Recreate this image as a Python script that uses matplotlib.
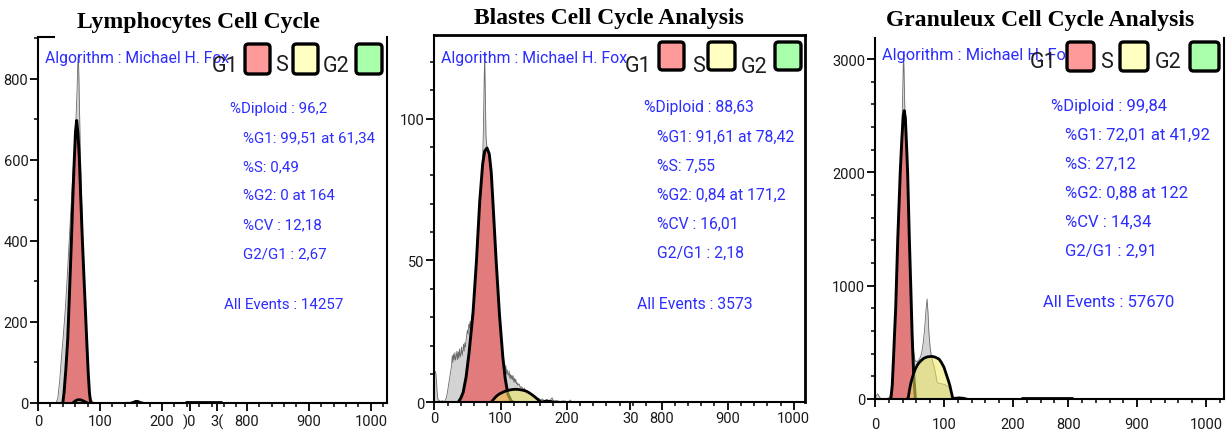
import numpy as np
import matplotlib
matplotlib.use("Agg")
import matplotlib.pyplot as plt
from matplotlib.patches import FancyBboxPatch
from matplotlib.ticker import FixedLocator, FixedFormatter

plt.rcParams['font.family'] = ['Roboto', 'DejaVu Sans']

W, H = 1232, 435

# ---------------- Lymphocytes ----------------
lym_hist_x = [29, 32, 35, 38, 41, 44, 47, 50, 53, 56, 59, 61, 63, 64, 65, 66, 67, 68, 70, 72, 75,
              78, 81, 83, 85, 88, 92, 100, 130, 150, 156, 160, 165, 172, 200]
lym_hist_y = [0, 12, 55, 115, 170, 230, 305, 390, 475, 560, 630, 690, 770, 830, 858, 805, 720, 645,
              520, 410, 270, 160, 80, 35, 12, 3, 0, 1, 1, 2, 4, 6, 3, 1, 0]
lym_g1_x = [40, 42, 45, 48, 51, 54, 56.5, 58.6, 60.5, 62.4, 64.5, 66.7, 69, 71.5, 75, 78.5, 81, 83, 85]
lym_g1_y = [0, 25, 85, 158, 280, 405, 520, 602, 670, 697, 665, 602, 505, 405, 280, 158, 75, 25, 0]
lym_s_x = [56, 60, 64, 68, 72, 76, 80]
lym_s_y = [0, 5, 8, 8, 6, 3, 0]
lym_g2_x = [150, 155, 158, 162, 166, 170]
lym_g2_y = [0, 3, 5, 4, 1, 0]
lym_tail_x = [362, 625]
lym_tail_y = [3, 3]
lym_stats = ["%Diploid : 96,2", "%G1: 99,51 at 61,34", "%S: 0,49", "%G2: 0 at 164",
             "%CV : 12,18", "G2/G1 : 2,67", "All Events : 14257"]

# ---------------- Blastes ----------------
bla_hist_x = [0, 1, 2, 3, 4, 5, 6, 8, 10, 12, 14, 16, 18, 20, 22, 24, 26, 27, 28, 29, 30, 31, 32,
              33, 34, 35, 36, 37, 38, 39, 40, 41, 42, 43, 44, 45, 46, 47, 48, 49, 50, 51, 52, 53,
              54, 55, 56, 58, 60, 62, 64, 66, 68, 70, 72, 73, 74, 75, 76, 77, 78, 79, 80, 82, 84,
              86, 88, 90, 92, 94, 96, 98, 100, 101, 102, 103, 104, 105, 106, 107, 108, 109, 110,
              111, 112, 113, 114, 115, 116, 117, 118, 119, 120, 121, 122, 123, 124, 125, 126, 128,
              130, 132, 134, 136, 138, 140, 142, 144, 146, 148, 150, 152, 155, 158, 160, 163, 166,
              170, 174, 178, 180, 185, 190, 195, 200, 210, 225, 228, 240]
bla_hist_y = [10, 11, 10.5, 8, 4, 1.5, 0.8, 0.5, 0.3, 0.6, 0.3, 0.5, 1.5, 4, 7, 10, 13, 16.5, 14,
              17, 15, 17.5, 14.8, 16, 18, 15, 17.8, 15.5, 18.8, 16, 17, 19.5, 16.5, 18, 20.5, 18,
              21, 19.5, 22, 24, 25.5, 24, 27.5, 26, 28.5, 27, 29, 32, 37, 43, 50, 57, 64, 72, 80,
              86, 95, 110, 123, 108, 94, 91, 89, 86, 80, 73, 66, 58, 52, 45, 38, 32, 26, 21, 17,
              14, 12.5, 10, 12.5, 11.5, 13, 10, 11.5, 10, 9.5, 11, 8.5, 9.8, 8.2, 9.5, 8, 9.4, 7.2,
              8.4, 7, 8.2, 6.5, 7, 6, 6.5, 5.2, 5.5, 4.5, 5, 4, 4.2, 3.5, 3.6, 3, 2.6, 2.2, 1.5,
              1.2, 1.4, 0.8, 1.2, 0.6, 1, 0.4, 1.6, 0.5, 0.6, 0.3, 0.5, 0.3, 0.2, 0.8, 0.2, 0]
bla_g1_x = [36, 40, 43.5, 48, 52.5, 58.5, 63.5, 68.5, 73, 76, 79.5, 83, 86, 88.5, 93.5, 98.5,
            103.5, 107, 111, 116, 120]
bla_g1_y = [0, 1.5, 3.5, 9, 17.6, 31.8, 49.4, 70.6, 84, 88.5, 89.6, 87.5, 81, 70.6, 49.4, 30.6,
            15.9, 8.5, 3, 0.5, 0]
bla_s_x = [86, 90, 94, 98, 103, 108, 113, 118, 123, 128, 133, 138, 143, 148, 152, 156, 159, 162]
bla_s_y = [0, 1.2, 2.2, 2.9, 3.5, 4, 4.3, 4.5, 4.6, 4.5, 4.3, 4, 3.4, 2.6, 1.9, 1.1, 0.5, 0]
bla_g2_x = [160, 166, 171, 176, 182]
bla_g2_y = [0, 0.4, 0.5, 0.4, 0]
bla_stats = ["%Diploid : 88,63", "%G1: 91,61 at 78,42", "%S: 7,55", "%G2: 0,84 at 171,2",
             "%CV : 16,01", "G2/G1 : 2,18", "All Events : 3573"]

# ---------------- Granuleux ----------------
gra_hist_x = [0, 2, 4, 6, 8, 12, 16, 20, 22, 24, 26, 28, 30, 32, 34, 36, 38, 39, 40, 41, 41.5, 42,
              43, 44, 46, 48, 50, 52, 54, 56, 58, 60, 62, 64, 66, 68, 70, 72, 74, 75.5, 77, 78, 80,
              82, 84, 86, 88, 89, 90, 92, 95, 98, 101, 104, 107, 109, 111, 112, 114, 120, 140, 180,
              200, 230]
gra_hist_y = [0, 30, 45, 25, 5, 3, 2, 10, 30, 80, 240, 520, 790, 1200, 1580, 1900, 2200, 2380, 2650,
              2950, 3015, 2920, 2620, 2450, 2150, 1750, 1350, 950, 620, 420, 340, 330, 335, 350, 370,
              420, 500, 620, 790, 882, 750, 600, 450, 370, 320, 280, 220, 180, 150, 140, 135, 132,
              128, 118, 102, 85, 50, 22, 8, 6, 4, 3, 2, 2]
gra_g1_x = [23, 25, 27, 28, 30, 33, 36.6, 39, 41, 42.4, 44, 46, 47.3, 49.8, 52, 54, 56, 58.5]
gra_g1_y = [0, 120, 380, 530, 800, 1410, 2000, 2300, 2500, 2544, 2480, 2200, 2000, 1410, 960, 530,
            230, 0]
gra_s_x = [47, 48.5, 50, 52, 54, 56, 58.5, 61, 63.5, 67, 71, 76, 82, 87, 92.7, 96, 100, 103, 106,
           108.5, 110.7, 112, 113.5]
gra_s_y = [0, 20, 80, 140, 185, 225, 265, 295, 318, 340, 360, 372, 376, 370, 353, 325, 280, 225,
           170, 120, 60, 25, 0]
gra_g2_x = [110, 116, 122, 128, 134]
gra_g2_y = [0, 9, 12, 9, 0]
gra_tail_x = [287, 807]
gra_tail_y = [12, 12]
gra_stats = ["%Diploid : 99,84", "%G1: 72,01 at 41,92", "%S: 27,12", "%G2: 0,88 at 122",
             "%CV : 14,34", "G2/G1 : 2,91", "All Events : 57670"]

titles = ["Lymphocytes Cell Cycle", "Blastes Cell Cycle Analysis", "Granuleux Cell Cycle Analysis"]
algorithm = "Algorithm : Michael H. Fox"
legend_labels = ["G1", "S", "G2"]

# colours
C_HIST, C_HIST_EDGE = "#d3d3d3", "#6a6a6a"
C_G1 = "#e27c7c"
C_S = "#efea62"
C_G2 = "#9af09a"
BOX_COLORS = ["#ff9a9a", "#ffffc2", "#aaffaa"]
BLUE = "#2d2dff"


def broken_axis(gap):
    """Channels 200..800 are squeezed into `gap` hundred units of axis length."""
    src = [-1000, 200, 800, 3000]
    dst = [-1000, 200, 200 + gap * 100, 200 + gap * 100 + 2200]
    fwd = lambda v: np.interp(v, src, dst)
    inv = lambda v: np.interp(v, dst, src)
    return fwd, inv


fig = plt.figure(figsize=(W / 100, H / 100), dpi=100)
INCH = fig.dpi_scale_trans


def pt(x, y):
    return x / 100, (H - y) / 100


panels = [
    dict(box=(38, 387, 38, 404), gap=1.37, xmax=1026, ymax=903, yt=[0, 200, 400, 600, 800],
         ymin_step=100, extra=[(245, ")0"), (289, "3(")], xpad=2.0,
         hist=(lym_hist_x, lym_hist_y), g1=(lym_g1_x, lym_g1_y), s=(lym_s_x, lym_s_y),
         g2=(lym_g2_x, lym_g2_y), tail=(lym_tail_x, lym_tail_y), stats=lym_stats,
         title=(198, 28), alg=(45, 63, 11.3), st=(230, 243, 224, [113, 142, 171, 200, 229, 258, 309], 10.9),
         leg=[(212, 72), (245, 45, 25, 30), (275, 71), (293, 45, 25, 30), (323, 72), (356, 45, 26, 30)],
         top=False, spw=1.5),
    dict(box=(434.4, 805, 35.5, 403.3), gap=1.435, xmax=1017, ymax=129.6, yt=[0, 50, 100],
         ymin_step=10, extra=[(296.5, "30")], xpad=0.0,
         hist=(bla_hist_x, bla_hist_y), g1=(bla_g1_x, bla_g1_y), s=(bla_s_x, bla_s_y),
         g2=(bla_g2_x, bla_g2_y), tail=None, stats=bla_stats,
         title=(609, 24), alg=(441, 63, 11.4), st=(644, 657, 637, [112, 142, 171, 200, 229, 258, 309], 11.3),
         leg=[(625, 72), (659, 43, 25, 28), (692, 72), (708, 43, 27, 28), (741, 73), (775, 43, 26, 28)],
         top=True, spw=2.0),
    dict(box=(875, 1224, 39.3, 400), gap=0.8, xmax=1026, ymax=3183, yt=[0, 1000, 2000, 3000],
         ymin_step=200, extra=[], xpad=7.0,
         hist=(gra_hist_x, gra_hist_y), g1=(gra_g1_x, gra_g1_y), s=(gra_s_x, gra_s_y),
         g2=(gra_g2_x, gra_g2_y), tail=(gra_tail_x, gra_tail_y), stats=gra_stats,
         title=(1040, 26), alg=(882, 60, 11.8), st=(1051, 1065, 1043, [111, 140, 169, 198, 227, 256, 307], 12.0),
         leg=[(1030, 68), (1067, 43, 27, 29), (1100, 68), (1120, 43, 28, 29), (1155, 68), (1190, 43, 29, 29)],
         top=False, spw=1.5),
]

for i, p in enumerate(panels):
    l, r, t, b = p["box"]
    ax = fig.add_axes([l / W, 1 - b / H, (r - l) / W, (b - t) / H])
    fwd, inv = broken_axis(p["gap"])
    ax.set_xscale("function", functions=(fwd, inv))
    ax.set_xlim(0, p["xmax"])
    ax.set_ylim(0, p["ymax"])

    hx, hy = p["hist"]
    ax.fill_between(hx, 0, hy, color=C_HIST, lw=0, zorder=1)
    ax.plot(hx, hy, color=C_HIST_EDGE, lw=0.6, zorder=2)
    gx, gy = p["g1"]
    ax.fill_between(gx, 0, gy, color=C_G1, lw=0, zorder=3)
    ax.plot(gx, gy, color="black", lw=2.1, zorder=4, solid_joinstyle="round")
    sx, sy = p["s"]
    ax.fill_between(sx, 0, sy, color=C_S, alpha=0.55, lw=0, zorder=5)
    ax.plot(sx, sy, color="black", lw=2.0, zorder=6, solid_joinstyle="round")
    g2x, g2y = p["g2"]
    ax.fill_between(g2x, 0, g2y, color=C_G2, alpha=0.5, lw=0, zorder=5)
    ax.plot(g2x, g2y, color="black", lw=1.6, zorder=6)
    if p["tail"] is not None:
        tx, ty = p["tail"]
        ax.plot(tx, ty, color="black", lw=2.0, zorder=6, solid_capstyle="butt")

    # ticks
    vgap_end = 200 + p["gap"] * 100
    majors = [0, 100, 200] + [float(inv(v)) for v, _ in p["extra"]] + [800, 900, 1000]
    labels = ["0", "100", "200"] + [s for _, s in p["extra"]] + ["800", "900", "1000"]
    minor_v = [v for v in range(20, 200, 20) if v != 100]
    minor_v += list(np.arange(220, vgap_end - 5, 20))
    minors = [float(inv(v)) for v in minor_v] + [v for v in range(820, int(p["xmax"]) + 1, 20)
                                                if v % 100 != 0]
    ax.xaxis.set_major_locator(FixedLocator(majors))
    ax.xaxis.set_major_formatter(FixedFormatter(labels))
    ax.xaxis.set_minor_locator(FixedLocator(minors))
    ax.yaxis.set_major_locator(FixedLocator(p["yt"]))
    ax.yaxis.set_minor_locator(FixedLocator(
        [v for v in np.arange(0, p["ymax"], p["ymin_step"]) if v not in p["yt"]]))
    ax.tick_params(axis="x", which="major", length=6, width=1.3, pad=p["xpad"],
                   labelsize=10.5, labelcolor="#1a1a1a")
    ax.tick_params(axis="x", which="minor", length=3, width=1.1)
    ax.tick_params(axis="y", which="major", length=5.5, width=1.3, pad=1.5,
                   labelsize=10.5, labelcolor="#1a1a1a")
    ax.tick_params(axis="y", which="minor", length=3, width=1.1)

    for side in ("left", "bottom", "right"):
        ax.spines[side].set_linewidth(p["spw"] if side == "right" else 1.5)
    ax.spines["top"].set_visible(p["top"])
    ax.spines["top"].set_linewidth(p["spw"])
    if i == 0:
        ax.plot([0, 16 / (r - l)], [1, 1], transform=ax.transAxes, color="black",
                lw=1.5, clip_on=False)
    for sp in ax.spines.values():
        sp.set_zorder(10)

    # title
    tx_, ty_ = p["title"]
    fig.text(*pt(tx_, ty_), titles[i], transform=INCH, ha="center", va="baseline",
             family="Liberation Serif", weight="bold", fontsize=17)

    # algorithm line and statistics
    ax_, ay_, afs = p["alg"]
    fig.text(*pt(ax_, ay_), algorithm, transform=INCH, ha="left", va="baseline",
             color=BLUE, fontsize=afs)
    x_dip, x_rest, x_all, ys, sfs = p["st"]
    for k, (txt, yy) in enumerate(zip(p["stats"], ys)):
        xx = x_dip if k == 0 else (x_all if k == 6 else x_rest)
        fig.text(*pt(xx, yy), txt, transform=INCH, ha="left", va="baseline",
                 color=BLUE, fontsize=sfs)

    # phase legend
    leg = p["leg"]
    for j in range(3):
        lx, ly = leg[2 * j]
        fig.text(*pt(lx, ly), legend_labels[j], transform=INCH, ha="left", va="baseline",
                 color="#1e1e1e", fontsize=15.5)
        bx, by, bw, bh = leg[2 * j + 1]
        x0, y0 = pt(bx, by + bh)
        fig.patches.append(FancyBboxPatch(
            (x0, y0), bw / 100, bh / 100, boxstyle="round,pad=0,rounding_size=0.035",
            transform=INCH, facecolor=BOX_COLORS[j], edgecolor="black", lw=2.4,
            figure=fig, zorder=20))

fig.savefig("out.png", dpi=100)
